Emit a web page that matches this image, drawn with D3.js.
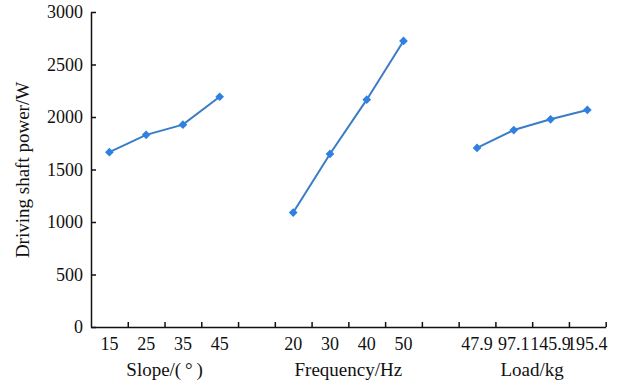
<!DOCTYPE html>
<html>
<head>
<meta charset="utf-8">
<script src="https://cdn.jsdelivr.net/npm/d3@7"></script>
<style>
  body { margin: 0; background: #fff; }
  text { font-family: "Liberation Serif", "Times New Roman", serif; fill: #111; }
</style>
</head>
<body>
<svg id="canvas"></svg>
<script>
// data
const slopeLabels = ['15', '25', '35', '45']
const slopePower = [1665, 1830, 1927, 2193]
const freqLabels = ['20', '30', '40', '50']
const freqPower = [1090, 1648, 2165, 2724]
const loadLabels = ['47.9', '97.1', '145.9', '195.4']
const loadPower = [1705, 1876, 1978, 2067]
const groupTitles = ['Slope/(\u2009°\u2009)', 'Frequency/Hz', 'Load/kg']
const yTicks = [0, 500, 1000, 1500, 2000, 2500, 3000]

let width = 618
let height = 382
let padLeft = 91
let padRight = 605.7
let padTop = 12
let padBottom = 327

let svg = d3.select('#canvas')
    .attr('width', width)
    .attr('height', height)

// slots: every group followed by an empty slot
let groups = [
    { labels: slopeLabels, values: slopePower, key: 's' },
    { labels: freqLabels, values: freqPower, key: 'f' },
    { labels: loadLabels, values: loadPower, key: 'l' }
]
let slots = []
groups.forEach((g, gi) => {
    g.labels.forEach((l) => slots.push(g.key + l))
    if (gi < groups.length - 1) slots.push('gap' + gi)
})

let xScale = d3.scaleBand()
    .domain(slots)
    .range([padLeft, padRight])
    .padding(0)

let edgeScale = d3.scaleLinear()
    .domain([0, slots.length])
    .range([padLeft, padRight])

let yScale = d3.scaleLinear()
    .domain([0, 3000])
    .range([padBottom, padTop])

// x axis: boundary ticks
svg.append('g')
    .attr('transform', 'translate(0,' + padBottom + ')')
    .call(d3.axisBottom(edgeScale).tickValues(d3.range(1, slots.length + 1)).tickSize(-5).tickSizeOuter(0).tickFormat(''))
    .call((g) => g.selectAll('line, path').attr('stroke', '#111').attr('stroke-width', 1.5))

// x axis labels
let xLabels = svg.append('g')
    .attr('transform', 'translate(0,' + padBottom + ')')
    .call(d3.axisBottom(xScale).tickSize(0).tickPadding(10)
        .tickFormat((d) => d.startsWith('gap') ? '' : d.slice(1)))
xLabels.select('.domain').remove()
xLabels.selectAll('text').attr('font-size', 18).attr('font-family', '"Liberation Serif", serif').attr('fill', '#111')

// y axis
svg.append('g')
    .attr('transform', 'translate(' + padLeft + ',0)')
    .call(d3.axisLeft(yScale).tickValues(yTicks).tickSize(-5).tickSizeOuter(0).tickPadding(8).tickFormat(d3.format('d')))
    .call((g) => g.selectAll('line, path').attr('stroke', '#111').attr('stroke-width', 1.5))
    .call((g) => g.selectAll('text').attr('font-size', 18).attr('font-family', '"Liberation Serif", serif').attr('fill', '#111'))

// y title
svg.append('text')
    .attr('transform', 'translate(29,170) rotate(-90)')
    .attr('text-anchor', 'middle')
    .attr('font-size', 19)
    .text('Driving shaft power/W')

// group titles
groups.forEach((g, gi) => {
    let first = xScale(g.key + g.labels[0])
    let last = xScale(g.key + g.labels[g.labels.length - 1]) + xScale.bandwidth()
    svg.append('text')
        .attr('x', (first + last) / 2)
        .attr('y', 376)
        .attr('text-anchor', 'middle')
        .attr('font-size', 19)
        .text(groupTitles[gi])
})

// lines and markers
let line = d3.line()
    .x((d) => d.x)
    .y((d) => d.y)

groups.forEach((g) => {
    let pts = g.labels.map((l, i) => ({
        x: xScale(g.key + l) + xScale.bandwidth() / 2,
        y: yScale(g.values[i])
    }))
    svg.append('path')
        .datum(pts)
        .attr('d', line)
        .attr('fill', 'none')
        .attr('stroke', '#3a7cc6')
        .attr('stroke-width', 2)
    svg.selectAll(null)
        .data(pts)
        .enter()
        .append('path')
        .attr('d', d3.symbol(d3.symbolSquare, 38))
        .attr('transform', (d) => 'translate(' + d.x + ',' + d.y + ') rotate(45)')
        .attr('fill', '#2f80e0')
})
</script>
</body>
</html>
